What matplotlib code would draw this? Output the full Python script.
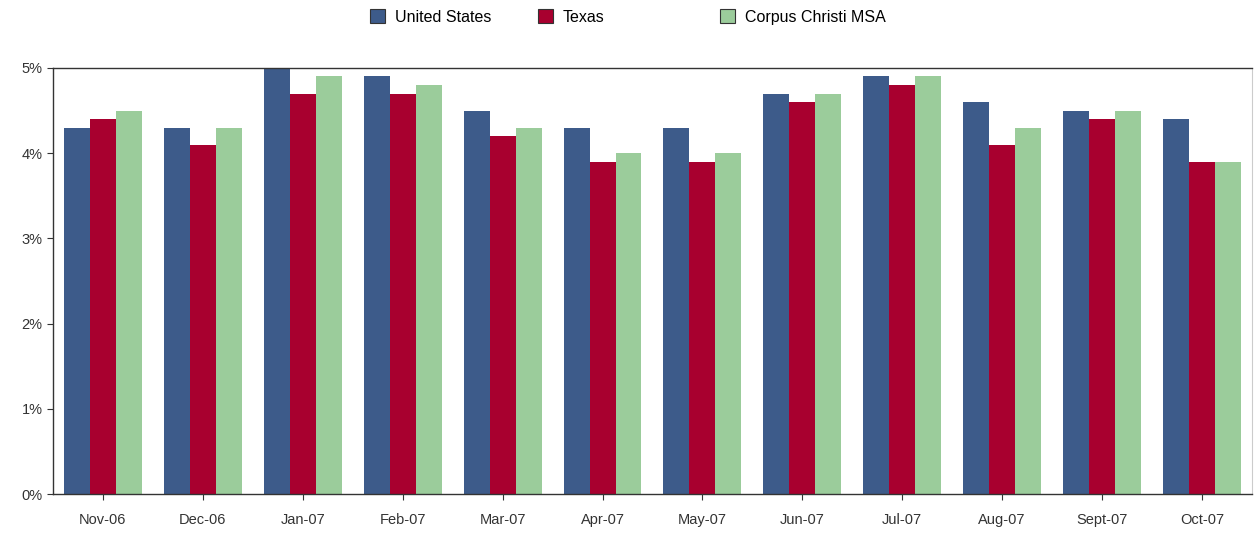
import numpy as np
import matplotlib
matplotlib.use("Agg")
import matplotlib.pyplot as plt
from matplotlib.patches import Patch

months = ["Nov-06", "Dec-06", "Jan-07", "Feb-07", "Mar-07", "Apr-07",
          "May-07", "Jun-07", "Jul-07", "Aug-07", "Sept-07", "Oct-07"]
united_states = [4.3, 4.3, 5.0, 4.9, 4.5, 4.3, 4.3, 4.7, 4.9, 4.6, 4.5, 4.4]
texas = [4.4, 4.1, 4.7, 4.7, 4.2, 3.9, 3.9, 4.6, 4.8, 4.1, 4.4, 3.9]
corpus_christi = [4.5, 4.3, 4.9, 4.8, 4.3, 4.0, 4.0, 4.7, 4.9, 4.3, 4.5, 3.9]
series_names = ["United States", "Texas", "Corpus Christi MSA"]
y_ticks = [0, 1, 2, 3, 4, 5]

colors = ["#3d5b8a", "#a8002f", "#9bcc9b"]

plt.rcParams["font.family"] = ["Liberation Sans", "DejaVu Sans"]

fig = plt.figure(figsize=(12.55, 5.35), dpi=100)
ax = fig.add_axes([0.0422, 0.0766, 0.9554, 0.7964])

x = np.arange(len(months))
w = 0.26
for i, (vals, c) in enumerate(zip([united_states, texas, corpus_christi], colors)):
    ax.bar(x + (i - 1) * w, vals, width=w, color=c, linewidth=0)

ax.set_xlim(-0.5, len(months) - 0.5)
ax.set_ylim(0, 5)
ax.set_yticks(y_ticks)
ax.set_yticklabels([f"{t}%" for t in y_ticks])
ax.set_xticks(x)
ax.set_xticklabels(months)
ax.tick_params(axis="both", labelsize=10.5, labelcolor="#333333", color="#333333",
               length=4, width=0.8, direction="out")
ax.tick_params(axis="x", pad=10)

for s in ["left", "bottom", "top"]:
    ax.spines[s].set_color("#333333")
    ax.spines[s].set_linewidth(1.0)
ax.spines["right"].set_color("#cccccc")
ax.spines["right"].set_linewidth(0.8)

# legend entries are not evenly spaced in the original, so place each one
legend_x = [370, 538, 720]
for name, c, lx in zip(series_names, colors, legend_x):
    h = Patch(facecolor=c, edgecolor="#333333", linewidth=0.8)
    fig.legend([h], [name], loc="center left", bbox_to_anchor=(lx / 1255, 1 - 17 / 535),
               frameon=False, fontsize=11.5, handlelength=0.95, handleheight=0.95,
               handletextpad=0.6, borderpad=0, borderaxespad=0)

fig.savefig("out.png", dpi=100, facecolor="white")
